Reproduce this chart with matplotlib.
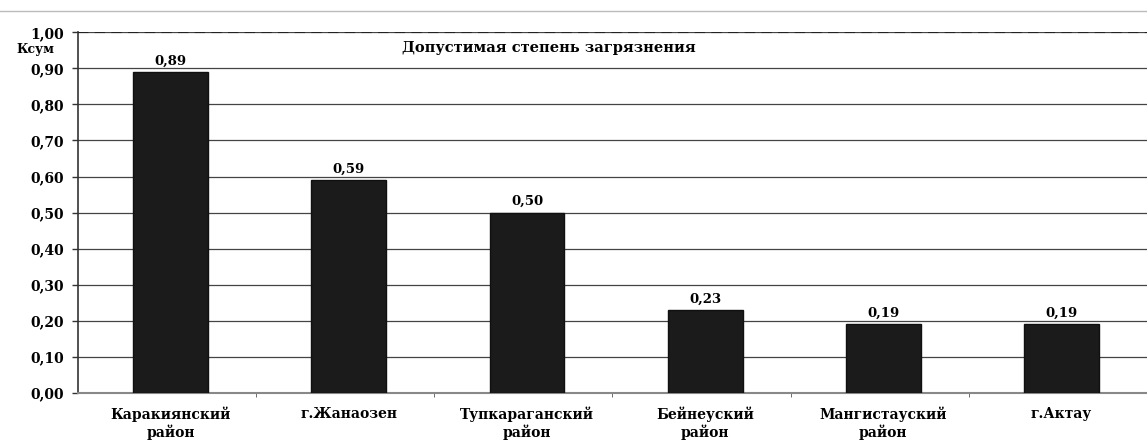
import matplotlib.pyplot as plt
import numpy as np

districts = ['Каракиянский\nрайон', 'г.Жанаозен', 'Тупкараганский\nрайон',
             'Бейнеуский\nрайон', 'Мангистауский\nрайон', 'г.Актау']
ksum = [0.89, 0.59, 0.50, 0.23, 0.19, 0.19]
limit = 1.00
limit_label = 'Допустимая степень загрязнения'

plt.rcParams['font.family'] = ['DejaVu Serif', 'Liberation Serif']
plt.rcParams['font.weight'] = 'bold'

fig = plt.figure(figsize=(11.47, 4.48), dpi=100)
ax = fig.add_axes([0.068, 0.123, 0.932, 0.805])

x = np.arange(len(ksum))
ax.bar(x + 0.02, ksum, width=0.42, color='#1b1b1b', edgecolor='#101010', zorder=3)
for xi, v in zip(x, ksum):
    ax.text(xi + 0.02, v + 0.012, f'{v:.2f}'.replace('.', ','), ha='center', va='bottom',
            fontsize=9.5, fontweight='bold')

ax.axhline(limit, color='#222222', linestyle=(0, (5, 3)), linewidth=1.5, zorder=4)
ax.text(1.32, 0.957, limit_label, ha='left', va='center', fontsize=10.5, fontweight='bold')

ax.set_xlim(-0.5, len(ksum) - 0.5)
ax.set_ylim(0, 1.0)
yt = np.round(np.arange(0, 1.01, 0.1), 2)
ax.set_yticks(yt)
ax.set_yticklabels([f'{v:.2f}'.replace('.', ',') for v in yt], fontsize=10, fontweight='bold')
ax.set_xticks(x + 0.02)
ax.set_xticklabels(districts, fontsize=10, fontweight='bold', linespacing=1.15)
ax.set_xticks(x[:-1] + 0.5, minor=True)
ax.tick_params(axis='x', which='major', length=0, pad=10)
ax.tick_params(axis='x', which='minor', length=3, color='#555555')
ax.tick_params(axis='y', length=4, width=1, color='#333333', pad=6)

ax.yaxis.grid(True, color='#444444', linewidth=0.9, zorder=0)
for s in ['top', 'right']:
    ax.spines[s].set_visible(False)
ax.spines['left'].set_color('#333333')
ax.spines['left'].set_linewidth(1.2)
ax.spines['bottom'].set_color('#888888')
ax.spines['bottom'].set_linewidth(1.5)

fig.text(0.014, 0.89, 'Ксум', fontsize=9, fontweight='bold', ha='left', va='center')
fig.add_artist(plt.Line2D([0, 1], [0.976, 0.976], color='#bbbbbb', linewidth=1))

fig.savefig('out.png', dpi=100, facecolor='white')
